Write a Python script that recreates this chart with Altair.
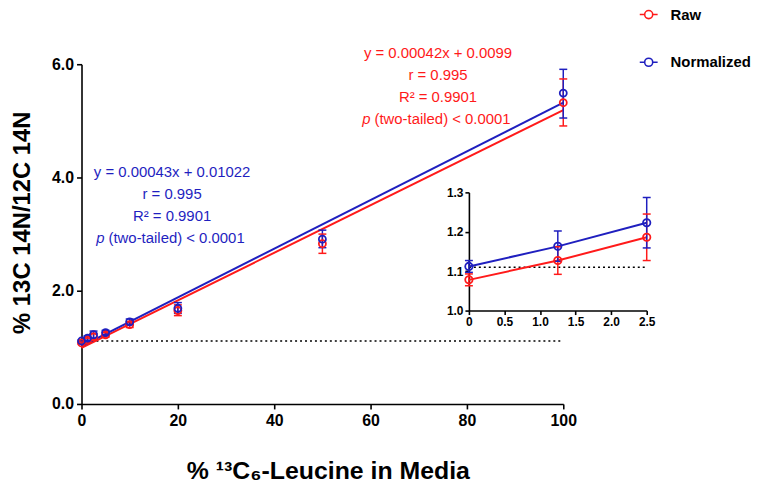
import altair as alt
import pandas as pd

# ---------------- data ----------------
conc = [0, 1.25, 2.5, 5, 10, 20, 50, 100]

raw_mean = [1.078, 1.127, 1.186, 1.22, 1.40, 1.65, 2.83, 5.32]
raw_lo = [1.063, 1.092, 1.127, 1.18, 1.35, 1.56, 2.66, 4.91]
raw_hi = [1.093, 1.162, 1.245, 1.26, 1.45, 1.75, 3.00, 5.74]

norm_mean = [1.112, 1.163, 1.223, 1.26, 1.45, 1.69, 2.91, 5.49]
norm_lo = [1.097, 1.125, 1.159, 1.22, 1.40, 1.60, 2.76, 5.05]
norm_hi = [1.127, 1.202, 1.287, 1.30, 1.50, 1.79, 3.07, 5.91]

series_names = ["Raw", "Normalized"]
series_colors = ["#ff1a1a", "#1f1fbf"]

# linear fits (in % units) from the printed equations
fit_slope = [0.042, 0.043]
fit_intercept = [0.99, 1.022]
fit_range = [0, 100]

baseline = 1.11
inset_max = 2.5

raw_eq = ["y = 0.00042x + 0.0099", "r = 0.995", "R\u00b2 = 0.9901", "(two-tailed) < 0.0001"]
norm_eq = ["y = 0.00043x + 0.01022", "r = 0.995", "R\u00b2 = 0.9901", "(two-tailed) < 0.0001"]

main_x_ticks = [0, 20, 40, 60, 80, 100]
main_y_ticks = [0, 2, 4, 6]
inset_x_ticks = [0, 0.5, 1.0, 1.5, 2.0, 2.5]
inset_y_ticks = [1.0, 1.1, 1.2, 1.3]

X_TITLE = "% \u00b9\u00b3C\u2086-Leucine in Media"
Y_TITLE = "% 13C 14N/12C 14N"

# ---------------- tables ----------------
rows = []
for name, m, lo, hi in [("Raw", raw_mean, raw_lo, raw_hi),
                        ("Normalized", norm_mean, norm_lo, norm_hi)]:
    for c, mm, l, h in zip(conc, m, lo, hi):
        rows.append({"series": name, "conc": c, "mean": mm, "lo": l, "hi": h})
df = pd.DataFrame(rows)
df_inset = df[df["conc"] <= inset_max]

fit_rows = []
for name, s, b in zip(series_names, fit_slope, fit_intercept):
    for xv in fit_range:
        fit_rows.append({"series": name, "conc": xv, "fit": b + s * xv})
df_fit = pd.DataFrame(fit_rows)

df_base = pd.DataFrame({"conc": [0], "x1": [100], "mean": [baseline]})
df_base_inset = pd.DataFrame({"conc": [0], "x1": [inset_max], "mean": [baseline]})

FONT = "Liberation Sans"
RED, BLUE = series_colors

legend_symbol = ("M-1,0H-0.45M0.45,0H1M0.45,0A0.45,0.45,0,1,1,-0.45,0"
                 "A0.45,0.45,0,1,1,0.45,0")
LEGEND = alt.Legend(title=None, orient="none", legendX=561, legendY=-60,
                    symbolType=legend_symbol, symbolSize=324,
                    symbolStrokeWidth=1.6, symbolFillColor="transparent",
                    labelFont=FONT, labelFontSize=15, labelFontWeight="bold",
                    labelColor="black", labelOffset=12, rowPadding=30, padding=0)
COLOR = alt.Color("series:N", scale=alt.Scale(domain=series_names, range=series_colors),
                  legend=LEGEND, title=None)

# ---------------- main panel ----------------
xs_main = alt.Scale(domain=[0, 100], nice=False)
ys_main = alt.Scale(domain=[0, 6], nice=False)

x_axis_main = alt.Axis(values=main_x_ticks, title=X_TITLE, labelFlush=False,
                       titleX=248, titleY=67, titleBaseline="middle", titleAlign="center",
                       titleFontSize=25, labelFontSize=16, labelPadding=4)
y_axis_main = alt.Axis(values=main_y_ticks, format=".1f", title=Y_TITLE, labelFlush=False,
                       titleX=-59, titleY=159, titleBaseline="middle", titleAlign="center",
                       titleAngle=-90, titleFontSize=24, labelFontSize=16, labelPadding=3)


def XM(field):
    return alt.X(field, scale=xs_main, axis=x_axis_main, title=X_TITLE)


def YM(field):
    return alt.Y(field, scale=ys_main, axis=y_axis_main, title=Y_TITLE)


CAP = 4  # half-width of error-bar caps, px

base_main = alt.Chart(df_base).mark_rule(color="black", strokeDash=[2, 3], strokeWidth=1.5).encode(
    x=XM("conc:Q"), x2="x1:Q", y=YM("mean:Q"),
)
fit_lines = alt.Chart(df_fit).mark_line(strokeWidth=2).encode(
    x=XM("conc:Q"), y=YM("fit:Q"), color=COLOR,
)
err_main = alt.Chart(df).mark_rule(strokeWidth=1.5).encode(
    x=XM("conc:Q"), y=YM("lo:Q"), y2="hi:Q", color=COLOR,
)
cap_lo_main = alt.Chart(df).mark_rule(strokeWidth=1.5, xOffset=-CAP, x2Offset=CAP).encode(
    x=XM("conc:Q"), x2="conc:Q", y=YM("lo:Q"), color=COLOR,
)
cap_hi_main = alt.Chart(df).mark_rule(strokeWidth=1.5, xOffset=-CAP, x2Offset=CAP).encode(
    x=XM("conc:Q"), x2="conc:Q", y=YM("hi:Q"), color=COLOR,
)
pts_main = alt.Chart(df).mark_point(filled=False, size=50, strokeWidth=1.8, opacity=1).encode(
    x=XM("conc:Q"), y=YM("mean:Q"), color=COLOR,
)


# annotations (anchored in data coordinates)
def eq_block(lines, color, ax, ay):
    layers = []
    for i, t in enumerate(lines):
        if i < 3:
            layers.append(alt.Chart(pd.DataFrame({"t": [t]})).mark_text(
                font=FONT, fontSize=15, color=color, baseline="middle", align="center",
                dy=i * 22).encode(
                x=alt.datum(ax, scale=xs_main), y=alt.datum(ay, scale=ys_main), text="t:N"))
        else:
            layers.append(alt.Chart(pd.DataFrame({"t": [t]})).mark_text(
                font=FONT, fontSize=15, color=color, baseline="middle", align="left",
                dx=-64, dy=i * 22).encode(
                x=alt.datum(ax, scale=xs_main), y=alt.datum(ay, scale=ys_main), text="t:N"))
            layers.append(alt.Chart(pd.DataFrame({"t": ["p"]})).mark_text(
                font=FONT, fontSize=15, color=color, baseline="middle", align="right",
                fontStyle="italic", dx=-68, dy=i * 22).encode(
                x=alt.datum(ax, scale=xs_main), y=alt.datum(ay, scale=ys_main), text="t:N"))
    return layers


ann = eq_block(raw_eq, RED, 74.0, 6.19) + eq_block(norm_eq, BLUE, 18.8, 4.09)

main = alt.layer(base_main, fit_lines, err_main, cap_lo_main, cap_hi_main, pts_main, *ann)

# ---------------- inset panel ----------------
xs_in = alt.Scale(domain=[0, inset_max], nice=False, range=[390, 569])
ys_in = alt.Scale(domain=[1.0, 1.3], nice=False, range=[248, 129])

x_axis_in = alt.Axis(orient="bottom", offset=-94, values=inset_x_ticks, title=None,
                     labelExpr="datum.value == 0 ? '0' : format(datum.value, '.1f')",
                     labelFlush=False, labelFontSize=12, tickSize=4, labelPadding=2)
y_axis_in = alt.Axis(orient="left", offset=-390, values=inset_y_ticks, format=".1f",
                     labelFlush=False, title=None, labelFontSize=12, tickSize=4, labelPadding=2)


def XI(field):
    return alt.X(field, scale=xs_in, axis=x_axis_in, title=None)


def YI(field):
    return alt.Y(field, scale=ys_in, axis=y_axis_in, title=None)


base_in = alt.Chart(df_base_inset).mark_rule(color="black", strokeDash=[2, 3], strokeWidth=1.3).encode(
    x=XI("conc:Q"), x2="x1:Q", y=YI("mean:Q"),
)
line_in = alt.Chart(df_inset).mark_line(strokeWidth=2).encode(
    x=XI("conc:Q"), y=YI("mean:Q"), color=COLOR,
)
err_in = alt.Chart(df_inset).mark_rule(strokeWidth=1.5).encode(
    x=XI("conc:Q"), y=YI("lo:Q"), y2="hi:Q", color=COLOR,
)
cap_lo_in = alt.Chart(df_inset).mark_rule(strokeWidth=1.5, xOffset=-CAP, x2Offset=CAP).encode(
    x=XI("conc:Q"), x2="conc:Q", y=YI("lo:Q"), color=COLOR,
)
cap_hi_in = alt.Chart(df_inset).mark_rule(strokeWidth=1.5, xOffset=-CAP, x2Offset=CAP).encode(
    x=XI("conc:Q"), x2="conc:Q", y=YI("hi:Q"), color=COLOR,
)
pts_in = alt.Chart(df_inset).mark_point(filled=False, size=55, strokeWidth=1.8, opacity=1).encode(
    x=XI("conc:Q"), y=YI("mean:Q"), color=COLOR,
)

inset = alt.layer(base_in, line_in, err_in, cap_lo_in, cap_hi_in, pts_in)

chart = alt.layer(main, inset).resolve_scale(
    x="independent", y="independent"
).properties(
    width=485, height=342,
    autosize=alt.AutoSizeParams(type="none"),
    padding={"left": 74, "top": 55, "right": 191, "bottom": 83},
).configure_view(stroke=None).configure_axis(
    grid=False, domainColor="black", domainWidth=1.6, tickColor="black", tickWidth=1.6,
    tickSize=5, labelFont=FONT, labelFontWeight="bold", labelColor="black",
    titleFont=FONT, titleFontWeight="bold", titleColor="black",
)

chart.save("out.html", embed_options={"renderer": "svg", "actions": False})
